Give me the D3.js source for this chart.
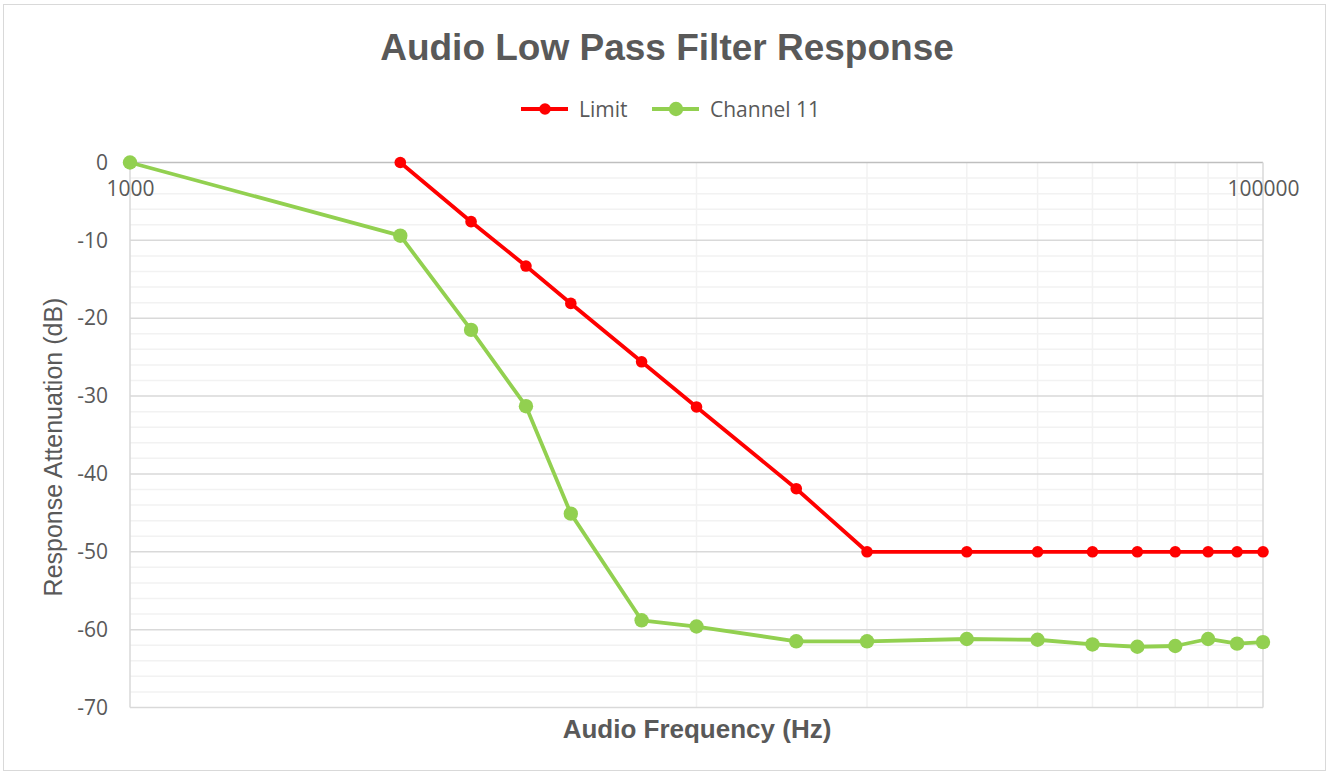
<!DOCTYPE html>
<html>
<head>
<meta charset="utf-8">
<script src="https://cdn.jsdelivr.net/npm/d3@7"></script>
<style>
    body { margin: 0; background: #fff; }
</style>
</head>
<body>
<div id="chart"></div>
<script>
const frequencies = [1000, 3000, 4000, 5000, 6000, 8000, 10000, 15000, 20000, 30000, 40000, 50000, 60000, 70000, 80000, 90000, 100000];
const limitValues = [null, 0, -7.6, -13.3, -18.1, -25.6, -31.4, -41.9, -50, -50, -50, -50, -50, -50, -50, -50, -50];
const channelValues = [0, -9.4, -21.5, -31.3, -45.1, -58.8, -59.6, -61.5, -61.5, -61.2, -61.3, -61.9, -62.2, -62.1, -61.2, -61.8, -61.6];
const xTickLabels = [1000, 100000];
const yTicks = [0, -10, -20, -30, -40, -50, -60, -70];

const width = 1328;
const height = 774;
const plot = { left: 130, right: 1263, top: 162.5, bottom: 707.5 };

const textColor = "#595959";

const svg = d3.select("#chart").append("svg")
    .attr("width", width)
    .attr("height", height);

// outer chart border
svg.append("rect")
    .attr("x", 3.5)
    .attr("y", 4.5)
    .attr("width", 1322)
    .attr("height", 766)
    .attr("fill", "#fff")
    .attr("stroke", "#d9d9d9");

const x = d3.scaleLog()
    .domain([1000, 100000])
    .range([plot.left, plot.right]);

const y = d3.scaleLinear()
    .domain([-70, 0])
    .range([plot.bottom, plot.top]);

// minor horizontal gridlines
svg.append("g")
    .selectAll("line")
    .data(d3.range(-68, 0, 2).filter(d => d % 10 !== 0))
    .enter().append("line")
    .attr("x1", plot.left)
    .attr("x2", plot.right)
    .attr("y1", d => y(d))
    .attr("y2", d => y(d))
    .style("stroke", "#f2f2f2")
    .style("stroke-width", "1.5px");

// vertical gridlines, only the upper decade shows them
svg.append("g")
    .selectAll("line")
    .data(d3.range(10000, 100000, 10000))
    .enter().append("line")
    .attr("x1", d => x(d))
    .attr("x2", d => x(d))
    .attr("y1", plot.top)
    .attr("y2", plot.bottom)
    .style("stroke", "#f2f2f2")
    .style("stroke-width", "1.5px");

// major horizontal gridlines
svg.append("g")
    .selectAll("line")
    .data(yTicks)
    .enter().append("line")
    .attr("x1", plot.left)
    .attr("x2", plot.right)
    .attr("y1", d => y(d))
    .attr("y2", d => y(d))
    .style("stroke", d => d === 0 ? "#bfbfbf" : "#d9d9d9")
    .style("stroke-width", "1.5px");

svg.append("line")
    .attr("x1", plot.right)
    .attr("x2", plot.right)
    .attr("y1", plot.top)
    .attr("y2", plot.bottom)
    .style("stroke", "#d9d9d9")
    .style("stroke-width", "1.5px");

svg.append("line")
    .attr("x1", plot.left)
    .attr("x2", plot.left)
    .attr("y1", plot.top)
    .attr("y2", plot.bottom)
    .style("stroke", "#d9d9d9")
    .style("stroke-width", "1.5px");

// y axis labels
const yAxis = d3.axisLeft(y)
    .tickValues(yTicks)
    .tickSize(0)
    .tickPadding(22)
    .tickFormat(d => d);

svg.append("g")
    .attr("transform", `translate(${plot.left}, 0)`)
    .call(yAxis)
    .call(g => g.select(".domain").remove())
    .selectAll("text")
    .style("font-family", "'Open Sans', sans-serif")
    .style("font-size", "21px")
    .style("fill", textColor);

// x axis labels sit under the zero line
const xAxis = d3.axisBottom(x)
    .tickValues(xTickLabels)
    .tickSize(0)
    .tickPadding(19)
    .tickFormat(d => d);

svg.append("g")
    .attr("transform", `translate(0, ${plot.top})`)
    .call(xAxis)
    .call(g => g.select(".domain").remove())
    .selectAll("text")
    .style("font-family", "'Open Sans', sans-serif")
    .style("font-size", "21px")
    .style("fill", textColor);

// series
const series = [
    { name: "Limit", values: limitValues, color: "#ff0000", lineWidth: 3.8, radius: 5.8 },
    { name: "Channel 11", values: channelValues, color: "#92d050", lineWidth: 3.8, radius: 7.2 }
];

const line = d3.line()
    .defined(d => d.v !== null)
    .x(d => x(d.f))
    .y(d => y(d.v));

series.forEach(s => {
    const pts = frequencies.map((f, i) => ({ f: f, v: s.values[i] }));

    svg.append("path")
        .datum(pts)
        .attr("d", line)
        .attr("fill", "none")
        .style("stroke", s.color)
        .style("stroke-width", s.lineWidth + "px")
        .style("stroke-linejoin", "round");

    svg.append("g")
        .selectAll("circle")
        .data(pts.filter(d => d.v !== null))
        .enter().append("circle")
        .attr("cx", d => x(d.f))
        .attr("cy", d => y(d.v))
        .attr("r", s.radius)
        .style("fill", s.color);
});

// title
svg.append("text")
    .attr("x", 667)
    .attr("y", 60)
    .attr("text-anchor", "middle")
    .style("font-family", "'Liberation Sans', Arial, sans-serif")
    .style("font-weight", "bold")
    .style("font-size", "37px")
    .style("fill", textColor)
    .text("Audio Low Pass Filter Response");

// legend
const legendItems = [
    { name: "Limit", x: 521 },
    { name: "Channel 11", x: 652 }
];

const legend = svg.append("g")
    .attr("transform", "translate(0, 109)");

legendItems.forEach((item, i) => {
    const s = series[i];
    legend.append("line")
        .attr("x1", item.x)
        .attr("x2", item.x + 47)
        .attr("y1", 0)
        .attr("y2", 0)
        .style("stroke", s.color)
        .style("stroke-width", s.lineWidth + "px");
    legend.append("circle")
        .attr("cx", item.x + 24)
        .attr("cy", 0)
        .attr("r", s.radius)
        .style("fill", s.color);
    legend.append("text")
        .attr("x", item.x + 58)
        .attr("y", 7.5)
        .style("font-family", "'Open Sans', sans-serif")
        .style("font-size", "21px")
        .style("fill", textColor)
        .text(item.name);
});

// axis titles
svg.append("text")
    .attr("x", 697)
    .attr("y", 738)
    .attr("text-anchor", "middle")
    .style("font-family", "'Liberation Sans', Arial, sans-serif")
    .style("font-weight", "bold")
    .style("font-size", "26px")
    .style("fill", textColor)
    .text("Audio Frequency (Hz)");

svg.append("text")
    .attr("transform", `translate(62, ${(plot.top + plot.bottom) / 2 + 12}) rotate(-90)`)
    .attr("text-anchor", "middle")
    .style("font-family", "'Liberation Sans', Arial, sans-serif")
    .style("font-size", "25px")
    .style("fill", textColor)
    .text("Response Attenuation (dB)");
</script>
</body>
</html>
